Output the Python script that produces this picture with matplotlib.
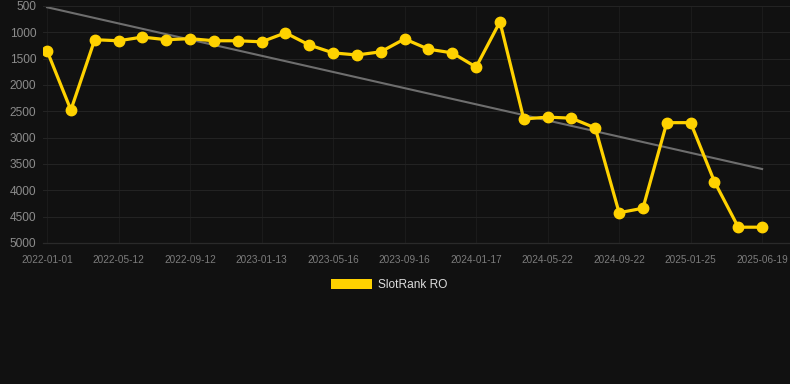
import numpy as np
import matplotlib
matplotlib.use('Agg')
import matplotlib.pyplot as plt
from matplotlib.patches import Patch

# rank per snapshot, 31 snapshots, every 3rd one labelled
ranks = [1350, 2475, 1140, 1160, 1090, 1140, 1120, 1160, 1160, 1180,
         1010, 1240, 1390, 1430, 1370, 1125, 1320, 1390, 1660, 800,
         2645, 2610, 2630, 2815, 4425, 4340, 2715, 2715, 3835, 4700, 4700]
tick_labels = ['2022-01-01', '2022-05-12', '2022-09-12', '2023-01-13',
               '2023-05-16', '2023-09-16', '2024-01-17', '2024-05-22',
               '2024-09-22', '2025-01-25', '2025-06-19']
y_ticks = [500, 1000, 1500, 2000, 2500, 3000, 3500, 4000, 4500, 5000]

bg = '#111111'
gold = '#ffd200'
plt.rcParams['font.family'] = ['Liberation Sans', 'DejaVu Sans']

fig = plt.figure(figsize=(7.9, 3.84), dpi=100, facecolor=bg)
ax = fig.add_axes([43 / 790, 1 - 243 / 384, 1 - 43 / 790, 237 / 384])
ax.set_facecolor(bg)

x = np.arange(len(ranks))

# linear trend through the series
k, b = np.polyfit(x, ranks, 1)
ax.plot([x[0], x[-1]], [k * x[0] + b, k * x[-1] + b], color='#6e6e6e', lw=1.5, zorder=2)

ax.plot(x, ranks, color=gold, lw=2.3, marker='o', markersize=7.5, zorder=3)

ax.set_ylim(5000, 500)
ax.set_xlim(-0.17, 31.17)
ax.set_yticks(y_ticks)
ax.set_xticks(x[::3])
ax.set_xticklabels(tick_labels)

ax.grid(True, axis='y', color='#232323', lw=0.8)
ax.grid(True, axis='x', color='#1b1b1b', lw=0.8)
ax.set_axisbelow(True)
for side in ['right', 'left']:
    ax.spines[side].set_visible(False)
ax.spines['bottom'].set_color('#2a2a2a')
ax.spines['top'].set_color('#232323')
ax.spines['bottom'].set_linewidth(0.9)
ax.spines['top'].set_linewidth(0.8)
ax.tick_params(axis='y', length=0, pad=5, labelsize=8.6, labelcolor='#8c8c8c')
ax.tick_params(axis='x', length=0, pad=8.5, labelsize=7.2, labelcolor='#7c7c7c')

handle = Patch(facecolor=gold, edgecolor='none')
leg = fig.legend([handle], ['SlotRank RO'], loc='center', bbox_to_anchor=(389 / 790, 1 - 285 / 384),
                 frameon=False, handlelength=3.4, handleheight=0.9, handletextpad=0.5,
                 fontsize=8.6, labelcolor='#dddddd')

fig.savefig('out.png', dpi=100, facecolor=bg)
